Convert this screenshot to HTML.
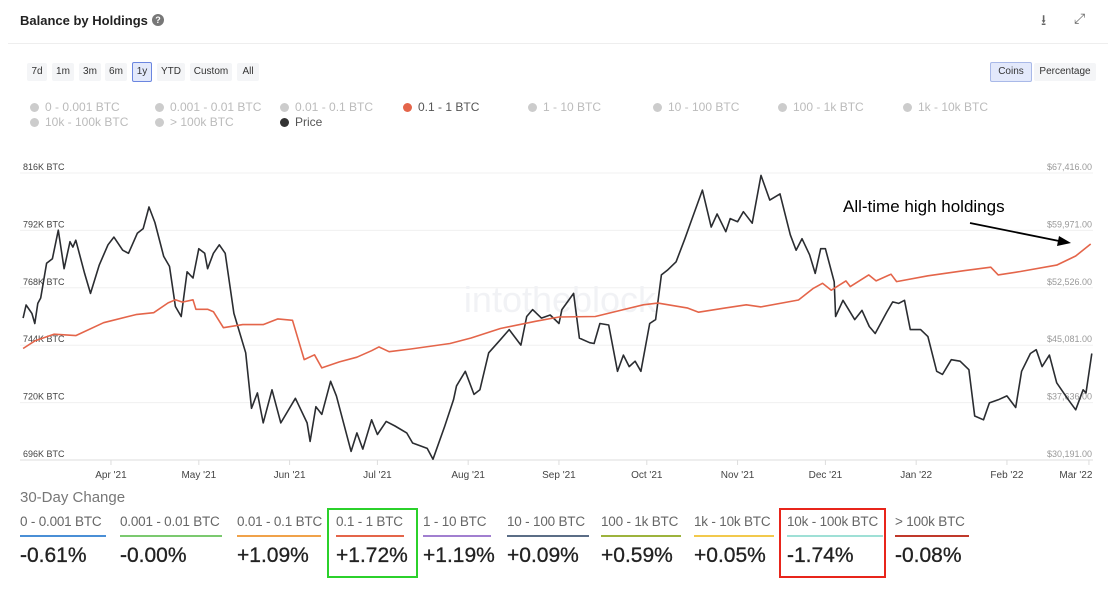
<!DOCTYPE html>
<html><head><meta charset="utf-8">
<style>
body{margin:0;width:1119px;height:589px;background:#fff;font-family:"Liberation Sans",sans-serif;position:relative;overflow:hidden;color:#333}
.abs{position:absolute}
.btn{position:absolute;top:63px;height:18px;line-height:18px;font-size:10px;color:#333;background:#f4f5f7;border-radius:2px;text-align:center}
.leg{position:absolute;font-size:12px;color:#bbb;white-space:nowrap}
.leg i{display:inline-block;width:9px;height:9px;border-radius:50%;background:#ccc;margin-right:6px;vertical-align:-1px}
.col{position:absolute;top:514px}
.col .l{font-size:13.5px;color:#666;white-space:nowrap;letter-spacing:-0.2px}
.col .u{height:2px;margin-top:6px}
.col .v{font-size:21px;color:#222;margin-top:7px;white-space:nowrap;-webkit-text-stroke:0.3px #222}
</style></head><body>
<div class="abs" style="left:20px;top:13px;font-size:13px;font-weight:bold;color:#222">Balance by Holdings</div>
<div class="abs" style="left:152px;top:14px;width:12px;height:12px;border-radius:50%;background:#777;color:#fff;font-size:9px;text-align:center;line-height:12px;font-weight:bold">?</div>
<div class="abs" style="left:1041px;top:10px;font-size:15px;color:#666">⭳</div>
<div class="abs" style="left:1074px;top:10px;font-size:14px;color:#666">⤢</div>
<div class="abs" style="left:8px;top:43px;width:1100px;height:1px;background:#eee"></div>

<div class="btn" style="left:27px;width:20px">7d</div>
<div class="btn" style="left:52px;width:22px">1m</div>
<div class="btn" style="left:79px;width:22px">3m</div>
<div class="btn" style="left:105px;width:22px">6m</div>
<div class="btn" style="left:132px;width:18px;background:#e3e9fb;border:1px solid #6b86e0;top:62px">1y</div>
<div class="btn" style="left:157px;width:28px">YTD</div>
<div class="btn" style="left:190px;width:42px">Custom</div>
<div class="btn" style="left:237px;width:22px">All</div>
<div class="btn" style="left:990px;width:40px;background:#e3e9fb;border:1px solid #a9b9e8;top:62px">Coins</div>
<div class="btn" style="left:1034px;width:62px">Percentage</div>

<div class="leg" style="left:30px;top:100px"><i></i>0 - 0.001 BTC</div>
<div class="leg" style="left:155px;top:100px"><i></i>0.001 - 0.01 BTC</div>
<div class="leg" style="left:280px;top:100px"><i></i>0.01 - 0.1 BTC</div>
<div class="leg" style="left:403px;top:100px;color:#555"><i style="background:#e4654a"></i>0.1 - 1 BTC</div>
<div class="leg" style="left:528px;top:100px"><i></i>1 - 10 BTC</div>
<div class="leg" style="left:653px;top:100px"><i></i>10 - 100 BTC</div>
<div class="leg" style="left:778px;top:100px"><i></i>100 - 1k BTC</div>
<div class="leg" style="left:903px;top:100px"><i></i>1k - 10k BTC</div>
<div class="leg" style="left:30px;top:115px"><i></i>10k - 100k BTC</div>
<div class="leg" style="left:155px;top:115px"><i></i>&gt; 100k BTC</div>
<div class="leg" style="left:280px;top:115px;color:#555"><i style="background:#333"></i>Price</div>

<svg class="abs" style="left:0;top:0" width="1119" height="589" id="chart"></svg>

<div class="abs" style="left:20px;top:489px;font-size:15px;color:#777">30-Day Change</div>
<div id="cols"></div>
<div class="abs" style="left:327px;top:508px;width:87px;height:66px;border:2px solid #2bd12b"></div>
<div class="abs" style="left:779px;top:508px;width:103px;height:66px;border:2px solid #e8251b"></div>

<script>
const days=[1,2,4,5,6,7,9,11,13,15,17,18,19,22,24,27,30,32,35,37,40,42,44,46,49,51,53,55,57,59,61,63,64,66,68,70,73,77,79,81,83,86,89,94,98,99,101,103,106,108,113,115,117,120,122,125,128,132,134,139,141,145,148,149,152,155,157,160,164,167,171,173,175,178,181,184,185,189,191,194.5,196,198,201,204,206,208,210,212,215,217,219,221,224,227,229,233,236,238,241,242.5,245,247,250,253,256,259.5,263,265,267,269.6,271.5,273.4,275,278,278.5,281,285,287.5,290,292,296,298,300,302,304,307.5,310,313,315,318,321,324,326,329,331,334,337,340,342,345,347,349,351.5,354,358,360.5,363,364,366];
const price=[48.6,50.3,49.2,47.9,50.5,51.2,55.7,56.3,60,55,58.5,57.8,58.7,54.4,51.8,55.5,58.1,59.1,57.4,57,59.6,60.2,63,61,56.6,55.3,50.1,48.8,54.6,53.8,57.6,57,55,57,58.1,57,49.2,44.1,36.9,38.9,35,39.3,35,38.2,35,32.6,37.1,36.1,40.4,38.5,31.3,33.7,31.6,35.4,33.5,35.2,34.6,33.7,32.4,31.7,30.3,34.6,38,39.8,41.7,38.7,39.3,44.1,45.8,47.1,45.1,48.8,49.7,48.6,49,47.9,49.7,51.8,46,45.4,45.3,47.9,47.7,41.7,43.8,42.3,43,41.7,47.9,48.4,54.2,54.8,55.9,58.9,61,65.2,60.4,62.1,59.8,61.5,61.1,62.4,60.9,67.1,63.9,64.7,59.4,57.4,58.9,56.8,54.4,57.6,57.6,53.3,48.8,50.9,48.4,49.6,47.5,46.6,49.4,50.7,50.5,50.9,47.1,47.1,46.2,41.7,41.3,43.2,43,41.9,35.9,35.4,37.6,38,38.5,37,41.7,44,44.5,42.3,43.8,40.2,38,36.7,39.3,38.9,44];
const hDays=[1,5,11.5,19,28.5,39.5,45.6,50.5,53,55.4,59,60,64,66,69.4,76,83,88,93,97,100.5,103,109,115,120,122.5,126,133.4,146.8,154,164,176,184,196.4,212.8,217.8,228,231.7,240.6,248,253,265.8,270.9,274,277,282,283.5,289.8,292.3,297.4,299.3,310,322.6,331.5,334,341.6,354,360.5,365.6];
const holdings=[742.6,745.8,748.6,748,753.4,756.8,757.6,761.7,763,762,763,759,759,758,751.3,752.6,752.6,755,754.4,738,740,734.5,737,739,741.7,743.3,741.3,742.4,744.7,747,751,754,755.8,756,760.9,761.6,759.5,757.8,759.5,760.9,760,762.9,767.8,769.9,767,770.9,768.5,773.4,770.9,773.7,770.6,773,775.2,776.6,773.4,774.8,777.5,781.3,786.3];
const leftTicks=["816K BTC","792K BTC","768K BTC","744K BTC","720K BTC","696K BTC"];
const rightTicks=["$67,416.00","$59,971.00","$52,526.00","$45,081.00","$37,636.00","$30,191.00"];
const monthLabels=["Apr '21","May '21","Jun '21","Jul '21","Aug '21","Sep '21","Oct '21","Nov '21","Dec '21","Jan '22","Feb '22","Mar '22"];
const monthDays=[31,61,92,122,153,184,214,245,275,306,337,365];
const NS="http://www.w3.org/2000/svg";
const svg=document.getElementById('chart');
const X=d=>20.2+2.928*d;
const YL=k=>173+(816-k)/120*287;
const YP=p=>173+(67.416-p)/37.225*287;
function mk(t,a){const e=document.createElementNS(NS,t);for(const k in a)e.setAttribute(k,a[k]);svg.appendChild(e);return e;}
leftTicks.forEach((t,i)=>{
  const y=173+i*287/5;
  const g=mk('line',{x1:20,x2:1093,y1:y,y2:y,stroke:i==5?'#ddd':'#f0f0f0','stroke-width':1});
  
  const a=mk('text',{x:23,y:y-3,'font-size':9,fill:'#444','font-family':'Liberation Sans'});a.textContent=t;
  
  const b=mk('text',{x:1092,y:y-3,'font-size':9,fill:'#999','text-anchor':'end','font-family':'Liberation Sans'});b.textContent=rightTicks[i];
  
});
monthLabels.forEach((m,i)=>{
  const x=X(monthDays[i]);
  const l=mk('line',{x1:x,x2:x,y1:460,y2:465,stroke:'#ddd'});
  
  const t=mk('text',{x:i==11?x-13:x,y:478,'font-size':10,fill:'#444','text-anchor':'middle','font-family':'Liberation Sans'});t.textContent=m;
  
});
const wm=mk('text',{x:560,y:312,'font-size':36,fill:'#f1f2f5','text-anchor':'middle','font-family':'Liberation Sans'});wm.textContent='intotheblock';

const pl=mk('polyline',{points:days.map((d,i)=>X(d).toFixed(1)+','+YP(price[i]).toFixed(1)).join(' '),fill:'none',stroke:'#2b2d31','stroke-width':1.6,'stroke-linejoin':'round'});

const hl=mk('polyline',{points:hDays.map((d,i)=>X(d).toFixed(1)+','+YL(holdings[i]).toFixed(1)).join(' '),fill:'none',stroke:'#e4654a','stroke-width':1.6,'stroke-linejoin':'round'});

const at=mk('text',{x:843,y:212,'font-size':17,fill:'#000','font-family':'Liberation Sans'});at.textContent='All-time high holdings';

const ar=mk('line',{x1:970,y1:223,x2:1064,y2:242,stroke:'#000','stroke-width':1.8});

const ah=mk('polygon',{points:'1071,243 1059,236 1057,246',fill:'#000'});


const colLabels=["0 - 0.001 BTC","0.001 - 0.01 BTC","0.01 - 0.1 BTC","0.1 - 1 BTC","1 - 10 BTC","10 - 100 BTC","100 - 1k BTC","1k - 10k BTC","10k - 100k BTC","> 100k BTC"];
const colValues=["-0.61%","-0.00%","+1.09%","+1.72%","+1.19%","+0.09%","+0.59%","+0.05%","-1.74%","-0.08%"];
const colX=[20,120,237,336,423,507,601,694,787,895];
const colW=[86,102,84,68,68,82,80,80,96,74];
const colC=["#4a8fd6","#7bc96f","#f0a24a","#e4654a","#a17fd0","#5b6d86","#9db33c","#f2c94c","#9fe0d6","#c0392b"];
const cont=document.getElementById('cols');
colLabels.forEach((l,i)=>{
  const d=document.createElement('div');d.className='col';d.style.left=colX[i]+'px';
  
  
  d.innerHTML='<div class="l"></div><div class="u"></div><div class="v"></div>';
  d.children[0].textContent=l;d.children[2].textContent=colValues[i];
  d.children[1].style.background=colC[i];d.children[1].style.width=colW[i]+'px';
  cont.appendChild(d);
});
</script>
</body></html>
